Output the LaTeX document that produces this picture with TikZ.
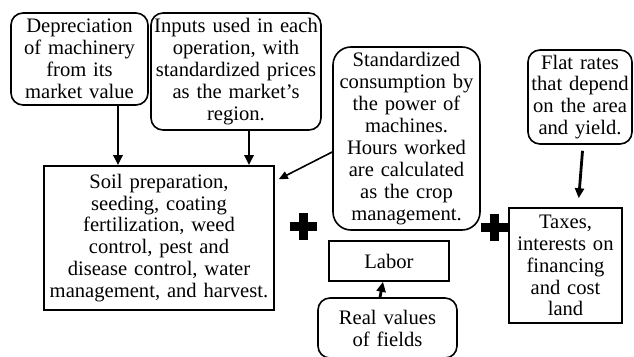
\documentclass[tikz,border=0pt]{standalone}
\usepackage{fontspec}
\setmainfont{Liberation Serif}
\usetikzlibrary{arrows.meta}
\begin{document}
\begin{tikzpicture}[x=1pt,y=-1pt,
  box/.style={draw, line width=1.6pt, inner sep=0pt, align=center, font=\fontsize{20.6}{21.9}\selectfont},
  rbox/.style={box, rounded corners=12pt},
  arr/.style={line width=2.8pt, -{Triangle[length=10pt,width=9pt]}},
  thinarr/.style={line width=1.6pt, -{Triangle[length=9pt,width=8pt]}},
  plussign/.pic={\fill (-13.5,-4.5) rectangle (13.5,4.5); \fill (-4.5,-13.5) rectangle (4.5,13.5);}
]
\useasboundingbox (0,0) rectangle (634,356);

\node[rbox, minimum width=137pt, minimum height=92pt, text width=135pt] (dep) at (79.5,59)
  {Depreciation\\of machinery\\from its\\market value};
\node[rbox, minimum width=170pt, minimum height=117pt, text width=168pt] (inp) at (236,71.5)
  {Inputs used in each\\operation, with\\standardized prices\\as the market's\\region.};
\node[box, minimum width=230pt, minimum height=144pt, text width=228pt] (main) at (159,238)
  {Soil preparation,\\seeding, coating\\fertilization, weed\\control, pest and\\disease control, water\\management, and harvest.};
\node[rbox, rounded corners=18pt, minimum width=147pt, minimum height=183pt, text width=145pt] (std) at (406.5,138.5)
  {Standardized\\consumption by\\the power of\\machines.\\Hours worked\\are calculated\\as the crop\\management.};
\node[rbox, minimum width=104pt, minimum height=94pt, text width=102pt] (flat) at (580,97)
  {Flat rates\\that depend\\on the area\\and yield.};
\node[box, minimum width=113pt, minimum height=115pt, text width=111pt] (tax) at (565.5,265.5)
  {Taxes,\\interests on\\financing\\and cost\\land};
\node[box, minimum width=120pt, minimum height=40pt, text width=118pt] (labor) at (389,261)
  {Labor};
\node[rbox, minimum width=139pt, minimum height=60pt, text width=137pt] (real) at (387.5,328)
  {Real values\\of fields};

\pic at (303,226) {plussign};
\pic at (494,227) {plussign};

\draw[arr] ([xshift=38.5pt]dep.south) -- ([xshift=-41pt]main.north);
\draw[arr] ([xshift=13pt]inp.south) -- ([xshift=90pt]main.north);
\draw[thinarr] ([yshift=-13.5pt]std.west) -- ([xshift=4pt,yshift=-14pt]main.north east);
\draw[arr, shorten <=6pt, shorten >=9pt] ([xshift=3pt]flat.south) -- ([xshift=12.5pt]tax.north);
\draw[arr] ([xshift=-7.5pt]real.north) -- ([xshift=-6pt]labor.south);
\end{tikzpicture}
\end{document}
